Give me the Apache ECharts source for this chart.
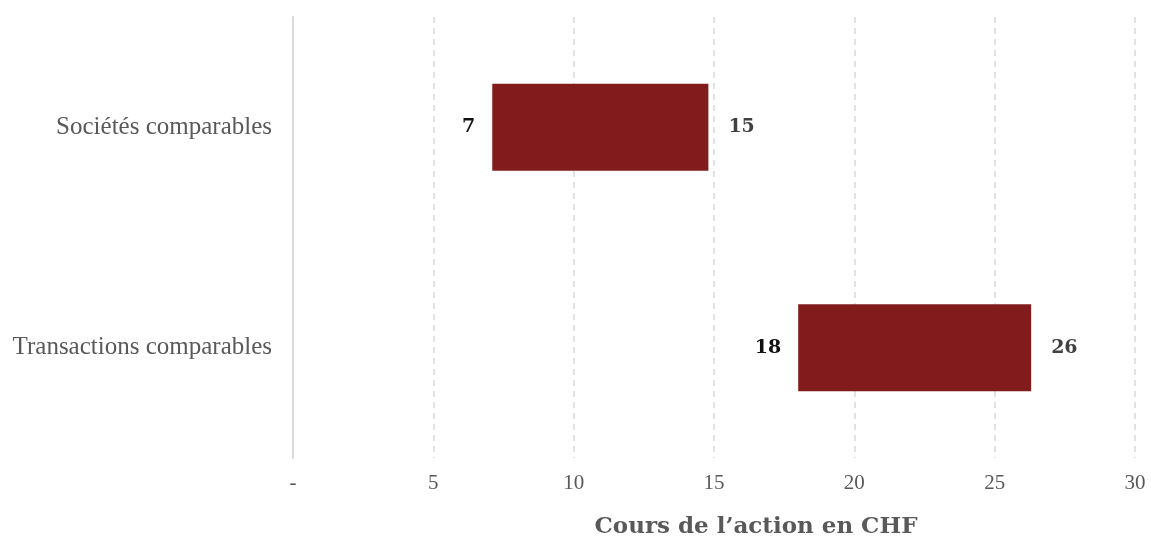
<!DOCTYPE html>
<html>
<head>
<meta charset="utf-8">
<script src="https://cdn.jsdelivr.net/npm/echarts@6/dist/echarts.min.js"></script>
<style>
  html, body { margin: 0; padding: 0; background: #fff; }
  #chart { width: 1151px; height: 539px; }
</style>
</head>
<body>
<div id="chart"></div>
<script>
// valuation ranges (CHF per share)
var categories = ['Sociétés comparables', 'Transactions comparables'];
var lowValues = [7.1, 18.0];
var highValues = [14.8, 26.3];
var axisTicks = [0, 5, 10, 15, 20, 25, 30];

var spans = highValues.map(function (h, i) { return +(h - lowValues[i]).toFixed(2); });

var serif = '"DejaVu Serif", "Liberation Serif", serif';
var grey = '#595959';

var chart = echarts.init(document.getElementById('chart'));
chart.setOption({
    animation: false,
    grid: { left: 293, right: 16, top: 17, bottom: 81, containLabel: false, outerBoundsMode: 'none' },
    xAxis: {
        type: 'value',
        min: axisTicks[0],
        max: axisTicks[axisTicks.length - 1],
        interval: 5,
        name: 'Cours de l\u2019action en CHF',
        nameLocation: 'middle',
        nameGap: 58,
        nameTextStyle: {
            fontFamily: serif, fontWeight: 'bold', fontSize: 23, color: grey,
            padding: [0, 0, 0, 84]
        },
        axisLine: { show: false },
        axisTick: { show: false },
        axisLabel: {
            fontFamily: '"Liberation Serif", serif',
            fontSize: 21,
            color: grey,
            margin: 15,
            formatter: function (v) { return v === 0 ? '-' : String(v); }
        },
        splitLine: { show: true, lineStyle: { color: '#d9d9d9', type: [6, 5], width: 1.5 } }
    },
    yAxis: {
        type: 'category',
        inverse: true,
        data: categories,
        axisLine: { show: true, lineStyle: { color: '#d9d9d9', width: 2 } },
        axisTick: { show: false },
        axisLabel: { fontFamily: '"Liberation Serif", serif', fontSize: 25, color: grey, margin: 21 }
    },
    series: [
        {
            type: 'bar',
            stack: 'range',
            data: lowValues,
            barWidth: 87,
            itemStyle: { color: 'transparent' },
            label: {
                show: true,
                position: 'insideRight',
                distance: 17,
                fontFamily: serif,
                fontWeight: 'bold',
                fontSize: 19,
                color: '#111',
                formatter: function (p) { return Math.round(p.value); }
            },
            silent: true
        },
        {
            type: 'bar',
            stack: 'range',
            data: spans,
            barWidth: 87,
            itemStyle: { color: '#821b1b' },
            label: {
                show: true,
                position: 'right',
                distance: 20,
                fontFamily: serif,
                fontWeight: 'bold',
                fontSize: 19,
                color: '#404040',
                formatter: function (p) { return Math.round(highValues[p.dataIndex]); }
            }
        }
    ]
});
</script>
</body>
</html>
